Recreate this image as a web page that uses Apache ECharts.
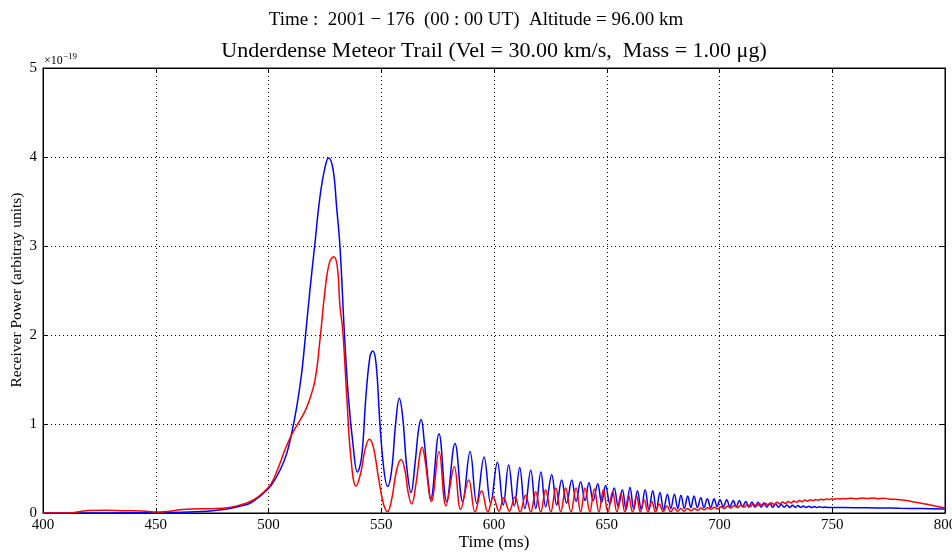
<!DOCTYPE html>
<html><head><meta charset="utf-8">
<script src="https://cdn.jsdelivr.net/npm/echarts@6/dist/echarts.min.js"></script>
<style>html,body{margin:0;padding:0;background:#fff}#c{width:952px;height:553px}</style>
</head><body><div id="c"></div>
<script>
// ---- text ----
const suptitleText = "Time :  2001 − 176  (00 : 00 UT)  Altitude = 96.00 km";
const titleText = "Underdense Meteor Trail (Vel = 30.00 km/s,  Mass = 1.00 μg)";
const xAxisLabel = "Time (ms)";
const yAxisLabel = "Receiver Power (arbitray units)";
const yScaleText = "×10";
const yScaleExp = "−19";
// ---- axes ----
const xMin = 400, xMax = 800, xStep = 50;
const yMin = 0, yMax = 5, yStep = 1;   // values in units of 1e-19
// ---- series: [time (ms), power (x1e-19)] ----
const bluePoints = [
[400,0],[420,0],[440,0.002],[455,0.005],[465,0.01],[475,0.025],[482.9,0.05],[488,0.08],[491.8,0.11],[494.8,0.16],
[497.7,0.22],[501.2,0.31],[505.1,0.48],[508.1,0.67],[510.3,0.90],[512.5,1.19],[514.7,1.57],[516.2,1.94],[518.4,2.51],
[520.6,3.03],[522.8,3.55],[525.1,3.89],[526.7,3.99],[528.7,3.85],[530.2,3.44],[531.7,2.99],[533.7,2.0],[535.4,1.31],
[537.6,0.74],[539.4,0.46],[541.3,0.63],[543.2,1.31],[545.0,1.76],[546.2,1.82],[547.7,1.68],[549.4,1.01],[551.2,0.48],
[552.8,0.30],[554.6,0.48],[556.4,1.01],[558.0,1.29],[559.5,1.08],[561.3,0.52],[563.2,0.23],[565.0,0.56],[566.5,0.93],
[567.7,1.05],[569.0,0.82],[570.9,0.33],[571.9,0.15],[575.6,0.89],[579.0,0.13],[582.7,0.78],[586.1,0.13],[589.4,0.69],
[592.3,0.11],[595.6,0.63],[598.5,0.11],[601.5,0.57],[604.1,0.09],[606.5,0.54],[609.0,0.08],[611.4,0.51],[613.7,0.05],
[616.3,0.48],[618.5,0.05],[620.8,0.46],[622.9,0.07],[625.6,0.43],[627.8,0.09],[630.0,0.37],[632.2,0.11],[634.5,0.37],
[636.4,0.13],[638.4,0.35],[640.4,0.14],[642.1,0.34],[644.0,0.14],[646.0,0.33],[647.7,0.12],[649.5,0.31],[651.4,0.10],
[653.3,0.28],[655.1,0.07],[656.9,0.26],[658.6,0.04],[660.3,0.29],[662.0,0.04],[663.6,0.25],[665.3,0.04],[667.0,0.26],
[668.7,0.04],[670.4,0.25],[672.0,0.04],[673.6,0.23],[675.2,0.04],[676.9,0.21],[678.4,0.05],[680.0,0.21],[681.5,0.05],
[682.9,0.20],[684.4,0.05],[685.9,0.19],[687.3,0.06],[688.7,0.19],[690.2,0.06],[691.7,0.17],[693.1,0.06],[694.6,0.16],
[696.1,0.06],[697.6,0.16],[698.9,0.07],[700.2,0.15],[701.7,0.07],[703.2,0.15],[704.6,0.07],[706.1,0.14],[707.4,0.07],
[708.8,0.14],[710.2,0.07],[711.7,0.13],[713.0,0.065],[714.4,0.125],[715.7,0.065],[717.1,0.12],[718.4,0.065],[719.7,0.115],
[721.0,0.065],[722.3,0.11],[723.6,0.065],[724.9,0.10],[726.2,0.065],[727.4,0.095],[728.7,0.065],[729.9,0.09],[731.2,0.063],
[732.4,0.087],[733.6,0.063],[734.8,0.083],[736.0,0.062],[737.2,0.08],[738.4,0.062],[739.6,0.076],[740.8,0.061],[742.0,0.073],
[743.2,0.061],[744.4,0.07],[745.6,0.061],[746.8,0.067],[748.0,0.061],[750,0.062],[760,0.06],[770,0.057],[780,0.053],
[790,0.05],[800,0.046]
];
const redPoints = [
[400,0],[412,0],[416,0.015],[420,0.028],[428,0.03],[436,0.025],[444,0.022],[449,0.012],[452,0.01],[456,0.02],[462,0.038],
[470,0.048],[477,0.05],[482,0.06],[486,0.08],[490,0.11],[493.5,0.15],[497.7,0.23],[501.2,0.33],[504.2,0.5],[507.3,0.71],
[510.3,0.88],[513.2,1.01],[515.5,1.11],[517.6,1.23],[520.6,1.49],[522.8,1.94],[525.1,2.51],[527.0,2.81],[528.9,2.88],
[530.5,2.77],[531.7,2.32],[532.9,2.06],[534.7,1.31],[536.5,0.63],[538.8,0.30],[540.9,0.45],[542.8,0.71],[544.7,0.83],
[546.5,0.74],[548.7,0.41],[550.9,0.11],[552.8,0.015],[554.6,0.15],[556.8,0.48],[558.8,0.60],[560.5,0.48],[562.0,0.22],
[563.5,0.10],[565.4,0.33],[567.2,0.67],[568.1,0.74],[569.4,0.60],[571.3,0.22],[572.2,0.13],[575.6,0.69],[578.7,0.08],
[582.4,0.52],[585.2,0.04],[588.8,0.37],[591.6,0.01],[594.5,0.25],[597.3,0.01],[599.6,0.18],[602.2,0.02],[604.3,0.17],
[606.8,0.02],[609.3,0.18],[611.6,0.01],[614.0,0.20],[616.3,0.01],[618.5,0.24],[620.7,0.01],[622.9,0.26],[625.2,0.01],
[627.4,0.28],[629.6,0.01],[631.8,0.28],[634.1,0.01],[636.4,0.28],[638.4,0.01],[640.4,0.28],[642.5,0.01],[644.5,0.27],
[646.5,0.01],[648.5,0.26],[650.5,0.01],[652.6,0.24],[654.5,0.01],[656.3,0.22],[658.0,0.01],[659.7,0.20],[661.4,0.01],
[663.2,0.19],[664.9,0.01],[666.6,0.15],[668.3,0.01],[670.0,0.13],[671.6,0.012],[673.3,0.10],[675.0,0.015],[676.7,0.08],
[678.3,0.015],[679.9,0.06],[681.4,0.02],[682.9,0.05],[684.3,0.02],[685.8,0.05],[687.3,0.025],[688.8,0.05],[690.3,0.03],
[691.8,0.055],[693.2,0.035],[694.7,0.06],[696.2,0.04],[697.7,0.065],[699.1,0.045],[700.6,0.07],[702.1,0.05],[703.6,0.08],
[705.0,0.055],[706.5,0.085],[708.0,0.06],[709.5,0.09],[710.9,0.065],[712.3,0.095],[713.6,0.07],[715.0,0.10],[716.3,0.075],
[717.7,0.105],[719.0,0.08],[720.3,0.11],[721.6,0.088],[722.9,0.115],[724.2,0.095],[725.5,0.12],[726.7,0.10],[728.0,0.125],
[729.2,0.107],[730.5,0.13],[731.7,0.113],[733.0,0.135],[734.2,0.12],[735.4,0.14],[736.6,0.126],[737.8,0.145],[739.0,0.132],
[740.2,0.15],[741.4,0.138],[742.6,0.152],[743.8,0.143],[745.0,0.155],[746.2,0.147],[747.4,0.158],[748.6,0.151],[749.8,0.16],
[751.0,0.154],[752.2,0.162],[753.4,0.157],[754.6,0.163],[755.8,0.159],[758.2,0.166],[760.6,0.160],[763.0,0.168],[765.4,0.162],
[767.8,0.168],[770.2,0.161],[772.6,0.165],[775.0,0.158],[780,0.148],[785,0.13],[790,0.107],[795,0.082],[800,0.057]
];

const serif = '"Liberation Serif", "DejaVu Serif", serif';
const chart = echarts.init(document.getElementById('c'), null, {renderer: 'canvas'});
const tickStyle = {inside: true, length: 5, lineStyle: {color: '#000', width: 1}};
const labelStyle = {fontFamily: serif, fontSize: 15, color: '#000'};
const gridLine = {show: true, lineStyle: {color: '#000', width: 1, type: [1, 3]}};
chart.setOption({
  animation: false,
  backgroundColor: '#fff',
  title: [{text: suptitleText, left: 'center', top: 6,
    textStyle: {fontFamily: serif, fontWeight: 'normal', fontSize: 19, color: '#000'}}],
  grid: {left: 43, right: 7, top: 68, bottom: 40, show: true, borderColor: '#000', borderWidth: 1,
    containLabel: false, outerBoundsMode: 'none'},
  xAxis: [
    {type: 'value', min: xMin, max: xMax, interval: xStep, position: 'bottom',
     axisLine: {show: true, onZero: false, lineStyle: {color: '#000'}}, axisTick: tickStyle,
     axisLabel: Object.assign({margin: 5}, labelStyle), splitLine: gridLine},
    {type: 'value', min: xMin, max: xMax, interval: xStep, position: 'top',
     axisLine: {show: true, onZero: false, lineStyle: {color: '#000'}}, axisTick: tickStyle,
     axisLabel: {show: false}, splitLine: {show: false}}
  ],
  yAxis: [
    {type: 'value', min: yMin, max: yMax, interval: yStep, position: 'left',
     axisLine: {show: true, onZero: false, lineStyle: {color: '#000'}}, axisTick: tickStyle,
     axisLabel: Object.assign({margin: 6}, labelStyle), splitLine: gridLine},
    {type: 'value', min: yMin, max: yMax, interval: yStep, position: 'right',
     axisLine: {show: true, onZero: false, lineStyle: {color: '#000'}}, axisTick: tickStyle,
     axisLabel: {show: false}, splitLine: {show: false}}
  ],
  series: [
    {type: 'line', data: bluePoints, showSymbol: false, smooth: 0.4, clip: true,
     lineStyle: {color: '#0000ff', width: 1.5}, z: 3},
    {type: 'line', data: redPoints, showSymbol: false, smooth: 0.4, clip: true,
     lineStyle: {color: '#ff0000', width: 1.5}, z: 4}
  ],
  graphic: [
    {type: 'text', x: 494, y: 51, style: {text: titleText, fill: '#000', fontSize: 22, fontFamily: serif,
      align: 'center', verticalAlign: 'middle'}},
    {type: 'text', x: 17, y: 290, rotation: Math.PI / 2, style: {text: yAxisLabel, fill: '#000', fontSize: 15.5,
      fontFamily: serif, align: 'center', verticalAlign: 'middle'}},
    {type: 'text', x: 494, y: 543, style: {text: xAxisLabel, fill: '#000', fontSize: 17, fontFamily: serif,
      align: 'center', verticalAlign: 'middle'}},
    {type: 'text', x: 44, y: 61, style: {text: yScaleText, fill: '#000', fontSize: 12, fontFamily: serif,
      align: 'left', verticalAlign: 'middle'}},
    {type: 'text', x: 63, y: 57, style: {text: yScaleExp, fill: '#000', fontSize: 9, fontFamily: serif,
      align: 'left', verticalAlign: 'middle'}}
  ]
});
</script>
</body></html>
